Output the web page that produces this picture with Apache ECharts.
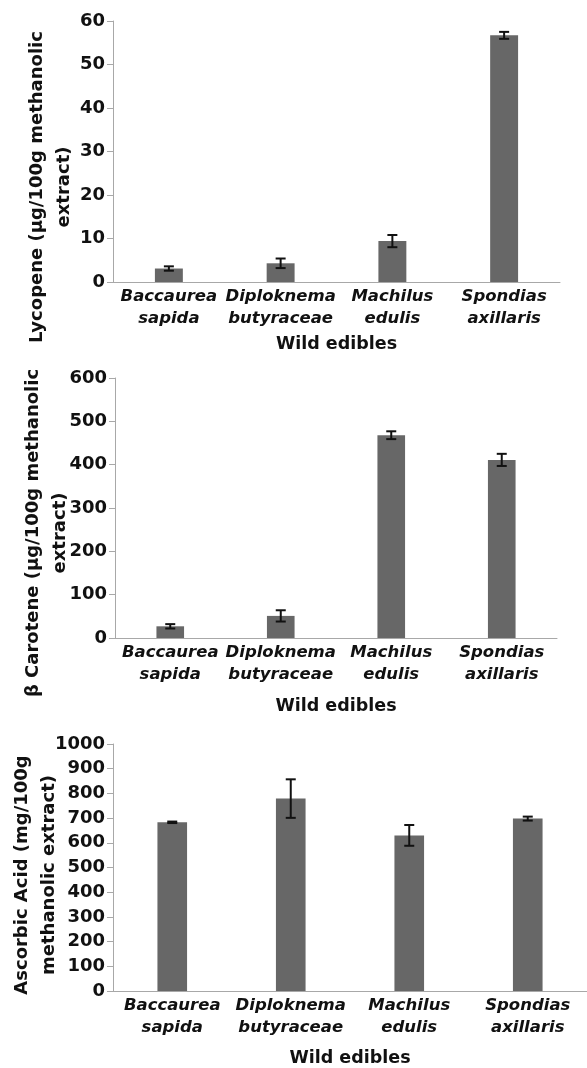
<!DOCTYPE html>
<html>
<head>
<meta charset="utf-8">
<script src="https://cdn.jsdelivr.net/npm/echarts@6/dist/echarts.min.js"></script>
<style>
  html, body { margin: 0; padding: 0; background: #fff; }
  #chart { width: 587px; height: 1068px; }
</style>
</head>
<body>
<div id="chart"></div>
<script>
// categories (wild edibles)
const categories = ['Baccaurea\nsapida', 'Diploknema\nbutyraceae', 'Machilus\nedulis', 'Spondias\naxillaris']

// values, with error bar half-lengths
const lycopene = [3.1, 4.3, 9.4, 56.7]
const lycopeneErr = [0.5, 1.1, 1.4, 0.8]
const betaCarotene = [27, 51, 468, 411]
const betaCaroteneErr = [5, 13, 9, 14]
const ascorbicAcid = [683, 779, 630, 698]
const ascorbicAcidErr = [3, 78, 42, 8]

const FONT = '"DejaVu Sans", sans-serif'
const BAR_COLOR = '#676767'
const AXIS_COLOR = '#a8a8a8'

// panel layout
const panels = [
  { values: lycopene, errs: lycopeneErr, max: 60, interval: 10,
    grid: { left: 113, right: 27, top: 21, height: 261 }, nameGap: 53,
    title: 'Lycopene (µg/100g methanolic\nextract)', tx: 51, ty: 187 },
  { values: betaCarotene, errs: betaCaroteneErr, max: 600, interval: 100,
    grid: { left: 115, right: 30, top: 378, height: 260 }, nameGap: 59,
    title: 'β Carotene (µg/100g methanolic\nextract)', tx: 47, ty: 533 },
  { values: ascorbicAcid, errs: ascorbicAcidErr, max: 1000, interval: 100,
    grid: { left: 113, right: -1, top: 744, height: 248 }, nameGap: 58,
    title: 'Ascorbic Acid (mg/100g\nmethanolic extract)', tx: 36, ty: 875 }
]

// error bar: vertical line with caps
const renderError = (params, api) => {
  const idx = api.value(0)
  const v = api.value(1)
  const e = api.value(2)
  const hi = api.coord([idx, v + e])
  const lo = api.coord([idx, v - e])
  const cap = 5
  const style = { stroke: '#111', lineWidth: 2 }
  return {
    type: 'group',
    children: [
      { type: 'line', shape: { x1: hi[0], y1: hi[1], x2: lo[0], y2: lo[1] }, style },
      { type: 'line', shape: { x1: hi[0] - cap, y1: hi[1], x2: hi[0] + cap, y2: hi[1] }, style },
      { type: 'line', shape: { x1: lo[0] - cap, y1: lo[1], x2: lo[0] + cap, y2: lo[1] }, style }
    ]
  }
}

const chart = echarts.init(document.getElementById('chart'))

const option = {
  backgroundColor: '#fff',
  animation: false,
  grid: panels.map(p => p.grid),
  xAxis: panels.map((p, i) => ({
    type: 'category',
    gridIndex: i,
    data: categories,
    name: 'Wild edibles',
    nameLocation: 'middle',
    nameGap: p.nameGap,
    nameTextStyle: { fontFamily: FONT, fontWeight: 'bold', fontSize: 17.5, color: '#111' },
    axisLine: { lineStyle: { color: AXIS_COLOR, width: 1 } },
    axisTick: { show: false },
    axisLabel: {
      interval: 0, margin: 4, fontFamily: FONT, fontWeight: 'bold', fontStyle: 'italic',
      fontSize: 16.5, lineHeight: 22, color: '#111'
    }
  })),
  yAxis: panels.map((p, i) => ({
    type: 'value',
    gridIndex: i,
    min: 0,
    max: p.max,
    interval: p.interval,
    splitLine: { show: false },
    axisLine: { show: true, lineStyle: { color: AXIS_COLOR, width: 1 } },
    axisTick: { show: true, length: 6, lineStyle: { color: AXIS_COLOR } },
    axisLabel: {
      margin: 8, fontFamily: FONT, fontWeight: 'bold', fontSize: 18, color: '#111',
      formatter: v => String(v)
    }
  })),
  graphic: panels.map(p => ({
    type: 'text',
    x: p.tx,
    y: p.ty,
    rotation: Math.PI / 2,
    style: {
      text: p.title,
      x: 0, y: 0,
      align: 'center',
      verticalAlign: 'middle',
      font: 'bold 18px ' + FONT,
      lineHeight: 27,
      fill: '#111'
    }
  })),
  series: panels.flatMap((p, i) => [
    {
      type: 'bar',
      xAxisIndex: i,
      yAxisIndex: i,
      data: p.values,
      barWidth: '25%',
      itemStyle: { color: BAR_COLOR }
    },
    {
      type: 'custom',
      xAxisIndex: i,
      yAxisIndex: i,
      renderItem: renderError,
      encode: { x: 0, y: [1, 2] },
      data: p.values.map((v, k) => [k, v, p.errs[k]]),
      z: 5
    }
  ])
}

chart.setOption(option)
window.addEventListener('resize', () => chart.resize())
</script>
</body>
</html>
